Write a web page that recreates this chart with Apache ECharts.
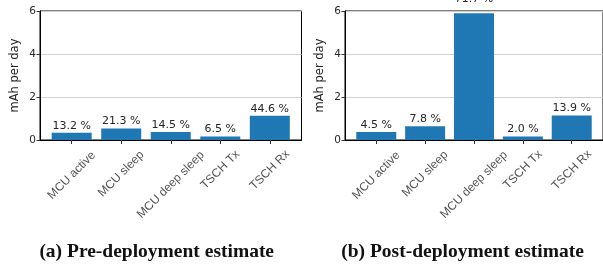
<!DOCTYPE html>
<html><head><meta charset="utf-8">
<script src="https://cdn.jsdelivr.net/npm/echarts@6/dist/echarts.min.js"></script>
<style>html,body{margin:0;padding:0;background:#fff}#c{width:603px;height:268px}</style>
</head><body><div id="c"></div>
<script>
const categories = ['MCU active', 'MCU sleep', 'MCU deep sleep', 'TSCH Tx', 'TSCH Rx'];
const preValues = [0.334, 0.539, 0.367, 0.164, 1.128];
const prePct = ['13.2', '21.3', '14.5', '6.5', '44.6'];
const postValues = [0.37, 0.64, 5.89, 0.164, 1.14];
const postPct = ['4.5', '7.8', '71.7', '2.0', '13.9'];
const yTicks = [0, 2, 4, 6];
const captions = ['(a) Pre-deployment estimate', '(b) Post-deployment estimate'];

const chart = echarts.init(document.getElementById('c'), null, {renderer: 'canvas'});
const txt = '#262626';
const idx = categories.map((_, i) => i);
const LABEL_FONT = '11px "DejaVu Sans"';
const mctx = document.createElement('canvas').getContext('2d');
mctx.font = LABEL_FONT;
function rotExtent(s) { return (mctx.measureText(s).width + 11) * Math.SQRT1_2; }
function labelOffset(s) {
  const D = 9.5 + rotExtent(s) / 2;
  return [-D * Math.SQRT1_2, D * Math.SQRT1_2];
}

function xAxis(g) {
  return {
    type: 'value', gridIndex: g, min: -0.64, max: 4.64,
    axisLine: {show: true, onZero: false, lineStyle: {color: '#000', width: 1}},
    axisTick: {show: true, customValues: idx, length: 4, lineStyle: {color: '#333'}},
    axisLabel: {show: false},
    splitLine: {show: false}
  };
}
function yAxis(g) {
  return {
    type: 'value', gridIndex: g, min: yTicks[0], max: yTicks[yTicks.length - 1], interval: 2,
    name: 'mAh per day', nameLocation: 'middle', nameGap: 19, nameRotate: 90,
    nameTextStyle: {fontSize: 11.5, color: txt, fontFamily: 'DejaVu Sans'},
    axisLine: {show: true, onZero: false, lineStyle: {color: '#000', width: 1}},
    axisTick: {show: true, length: 3.5, lineStyle: {color: '#333'}},
    axisLabel: {fontSize: 10.5, color: txt, fontFamily: 'DejaVu Sans', margin: 4},
    splitLine: {show: true, lineStyle: {color: '#cfcfcf', width: 1}}
  };
}
function series(g, vals, pct) {
  return {
    type: 'bar', xAxisIndex: g, yAxisIndex: g, barWidth: 40,
    itemStyle: {color: '#1f77b4'},
    data: vals.map((v, i) => ({
      value: [i, v],
      label: v > 5 ? {distance: 9} : undefined
    })),
    label: {show: true, position: 'top', distance: 1.5, fontSize: 11, color: txt,
      fontFamily: 'DejaVu Sans', formatter: p => pct[p.dataIndex] + ' %'},
    animation: false
  };
}
function catLabels(g) {
  return {
    type: 'scatter', xAxisIndex: g, yAxisIndex: g, symbolSize: 0, silent: true,
    clip: false,
    data: categories.map((c, i) => ({
      value: [i, 0],
      label: {offset: labelOffset(c)}
    })),
    label: {show: true, position: 'inside', rotate: 45, align: 'center', verticalAlign: 'middle',
      font: LABEL_FONT, color: txt, formatter: p => categories[p.dataIndex]},
    animation: false, z: 5
  };
}
chart.setOption({
  animation: false,
  grid: [
    {left: 40, top: 11, width: 261.5, height: 129, show: true, borderColor: '#000', borderWidth: 1, backgroundColor: 'transparent'},
    {left: 345, top: 11, width: 261.5, height: 129, show: true, borderColor: '#000', borderWidth: 1, backgroundColor: 'transparent'}
  ],
  xAxis: [xAxis(0), xAxis(1)],
  yAxis: [yAxis(0), yAxis(1)],
  series: [series(0, preValues, prePct), series(1, postValues, postPct), catLabels(0), catLabels(1)],
  graphic: [
    {type: 'text', x: 156.7, y: 251.5, style: {text: captions[0], font: 'bold 19.5px "Liberation Serif"', fill: '#111', align: 'center', verticalAlign: 'middle'}},
    {type: 'text', x: 462.5, y: 251.5, style: {text: captions[1], font: 'bold 19.5px "Liberation Serif"', fill: '#111', align: 'center', verticalAlign: 'middle'}}
  ]
});
</script></body></html>
